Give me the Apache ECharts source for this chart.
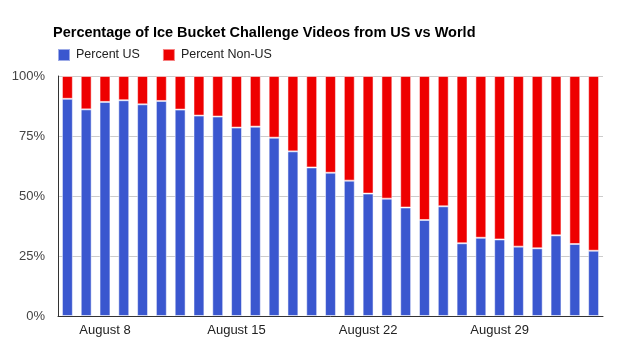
<!DOCTYPE html>
<html style="height: 100%">
<head>
<meta charset="utf-8">
<script src="https://cdn.jsdelivr.net/npm/echarts@6/dist/echarts.min.js"></script>
</head>
<body style="height: 100%; margin: 0; background: #fff">
<div id="container" style="width: 620px; height: 350px"></div>
<script type="text/javascript">
// days Aug 6 .. Sep 3
var days = ['August 6', 'August 7', 'August 8', 'August 9', 'August 10', 'August 11', 'August 12',
    'August 13', 'August 14', 'August 15', 'August 16', 'August 17', 'August 18', 'August 19',
    'August 20', 'August 21', 'August 22', 'August 23', 'August 24', 'August 25', 'August 26',
    'August 27', 'August 28', 'August 29', 'August 30', 'August 31', 'September 1', 'September 2',
    'September 3'];
var shownLabels = ['August 8', 'August 15', 'August 22', 'August 29'];

var percentUS = [90.5, 86.1, 89.2, 89.9, 88.2, 89.6, 86.0, 83.5, 83.1, 78.5, 78.9, 74.3, 68.6, 61.9,
    59.7, 56.4, 51.0, 48.9, 45.2, 40.0, 45.7, 30.3, 32.6, 31.9, 28.9, 28.2, 33.6, 30.0, 27.2];
var percentNonUS = percentUS.map(function (v) { return +(100 - v).toFixed(1); });

var yTicks = [0, 25, 50, 75, 100];

var blue = '#3a57cf';
var red = '#ee0000';

var myChart = echarts.init(document.getElementById('container'));
var option = {
    animation: false,
    title: {
        text: 'Percentage of Ice Bucket Challenge Videos from US vs World',
        left: 48,
        top: 20,
        textStyle: {
            fontFamily: 'Liberation Sans, Arial, sans-serif',
            fontSize: 14.5,
            fontWeight: 'bold',
            color: '#000'
        }
    },
    legend: {
        left: 52,
        top: 43,
        itemWidth: 12,
        itemHeight: 12,
        itemGap: 22,
        icon: 'rect',
        textStyle: {
            fontFamily: 'Liberation Sans, Arial, sans-serif',
            fontSize: 12.5,
            color: '#222',
            padding: [0, 0, 0, 1]
        },
        data: ['Percent US', 'Percent Non-US']
    },
    grid: {
        left: 58,
        right: 17,
        top: 76,
        bottom: 34
    },
    xAxis: {
        type: 'category',
        data: days,
        axisTick: { show: false },
        axisLine: { lineStyle: { color: '#333', width: 1 } },
        axisLabel: {
            interval: 0,
            margin: 8,
            fontFamily: 'Liberation Sans, Arial, sans-serif',
            fontSize: 13,
            color: '#222',
            formatter: function (v) { return shownLabels.indexOf(v) >= 0 ? v : ''; }
        }
    },
    yAxis: {
        type: 'value',
        min: 0,
        max: 100,
        interval: 25,
        axisLine: { show: true, lineStyle: { color: '#333', width: 1 } },
        axisTick: { show: false },
        splitLine: { lineStyle: { color: '#ccc' } },
        axisLabel: {
            margin: 13,
            fontFamily: 'Liberation Sans, Arial, sans-serif',
            fontSize: 13,
            color: '#444',
            formatter: function (v) { return yTicks.indexOf(v) >= 0 ? v + '%' : ''; }
        }
    },
    series: [
        {
            name: 'Percent US',
            type: 'bar',
            stack: 'total',
            barWidth: '58%',
            itemStyle: { color: blue, borderColor: 'rgba(255,255,255,0.5)', borderWidth: 1 },
            data: percentUS
        },
        {
            name: 'Percent Non-US',
            type: 'bar',
            stack: 'total',
            barWidth: '58%',
            itemStyle: { color: red, borderColor: 'rgba(255,255,255,0.5)', borderWidth: 1 },
            data: percentNonUS
        }
    ]
};
myChart.setOption(option);
</script>
</body>
</html>
